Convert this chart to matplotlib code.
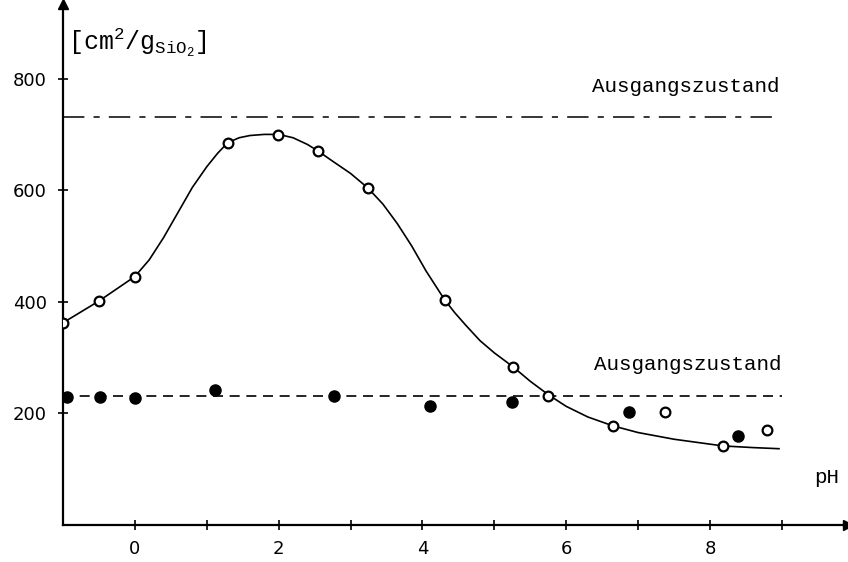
import matplotlib
matplotlib.use("Agg")
import matplotlib.pyplot as plt

# Werte aus dem Diagramm abgelesen
# offene Kreise (mit Kurve)
ph_offen = [-1.0, -0.5, 0.0, 1.29, 1.99, 2.55, 3.24, 4.31, 5.26, 5.75, 6.65, 8.18]
wert_offen = [362, 401, 445, 685, 699, 670, 604, 403, 283, 231, 177, 141]

# offene Kreise ohne Kurve
ph_offen_frei = [7.37, 8.79]
wert_offen_frei = [202, 170]

# gefuellte Kreise
ph_voll = [-0.95, -0.49, 0.0, 1.11, 2.77, 4.1, 5.24, 6.87, 8.39]
wert_voll = [229, 229, 227, 241, 231, 213, 220, 202, 159]

ph_kurve = [-1.0, -0.5, 0.0, 0.2, 0.4, 0.6, 0.8, 1.0, 1.15, 1.29, 1.45, 1.6,
            1.8, 2.0, 2.2, 2.4, 2.55, 2.75, 3.0, 3.24, 3.45, 3.65, 3.85, 4.05,
            4.2, 4.31, 4.45, 4.6, 4.8, 5.0, 5.26, 5.5, 5.75, 6.0, 6.3, 6.65,
            7.0, 7.5, 8.18, 8.6, 8.96]
wert_kurve = [362, 401, 445, 475, 515, 560, 605, 642, 666, 685, 694, 698,
              700, 700, 694, 682, 670, 652, 630, 604, 575, 540, 500, 455,
              425, 403, 380, 358, 330, 308, 283, 257, 233, 212, 193, 177,
              165, 153, 141, 138, 136]

# Ausgangszustaende
niveau_oben = 732
niveau_unten = 231

plt.rcParams['mathtext.fontset'] = 'custom'
plt.rcParams['mathtext.rm'] = 'Liberation Mono'
plt.rcParams['mathtext.it'] = 'Liberation Mono'

fig = plt.figure(figsize=(8.48, 5.62), dpi=100)
ax = fig.add_axes([63 / 848, 37.5 / 562, (848 - 63) / 848, 520.5 / 562])
ax.set_xlim(-1, 9.92)
ax.set_ylim(0, 934)

# Achsen
for s in ['top', 'right']:
    ax.spines[s].set_visible(False)
ax.spines['left'].set_linewidth(1.6)
ax.spines['bottom'].set_linewidth(1.6)
ax.plot(1, 0, '>k', transform=ax.transAxes, clip_on=False, markersize=7)
ax.plot(0, 1, '^k', transform=ax.transAxes, clip_on=False, markersize=7)

# Horizontale Linien
ax.plot([-1, 8.97], [niveau_oben, niveau_oben], color='black', lw=1.1,
        dashes=(14, 6, 4, 6))
ax.plot([-1, 9.0], [niveau_unten, niveau_unten], color='black', lw=1.2,
        dashes=(6, 4))

# Kurve und Punkte
ax.plot(ph_kurve, wert_kurve, color='black', lw=1.2, zorder=2)
ax.plot(ph_offen, wert_offen, 'o', color='black', markerfacecolor='white',
        markersize=7, markeredgewidth=1.6, zorder=3)
ax.plot(ph_offen_frei, wert_offen_frei, 'o', color='black',
        markerfacecolor='white', markersize=7, markeredgewidth=1.6, zorder=3)
ax.plot(ph_voll, wert_voll, 'o', color='black', markersize=8, zorder=3)

# Beschriftungen
ax.text(8.97, 786, 'Ausgangszustand', family='Liberation Mono', fontsize=15,
        ha='right', va='center')
ax.text(9.0, 288, 'Ausgangszustand', family='Liberation Mono', fontsize=15,
        ha='right', va='center')
ax.text(9.45, 85, 'pH', family='Liberation Mono', fontsize=15,
        ha='left', va='center')
ax.text(-0.93, 865, r'$[\mathrm{cm}^2/\mathrm{g}_{\mathrm{SiO}_2}]$',
        fontsize=18, ha='left', va='center')

# Ticks
ax.set_xticks(range(0, 10))
ax.set_xticklabels(['0', '', '2', '', '4', '', '6', '', '8', ''])
ax.set_yticks([200, 400, 600, 800])
ax.tick_params(direction='inout', length=7, width=1.2, labelsize=13, pad=8)

fig.savefig('out.png', dpi=100)
